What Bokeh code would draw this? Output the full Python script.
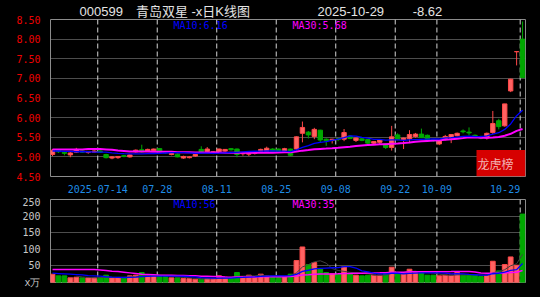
import pandas as pd
from bokeh.plotting import figure
from bokeh.layouts import column
from bokeh.models import ColumnDataSource, FixedTicker, Label, BoxAnnotation, Range1d, Span
from bokeh.embed import file_html
from bokeh.resources import INLINE

# ---------------- data ----------------
dates = [
    "2025-07-02", "2025-07-03", "2025-07-04", "2025-07-07", "2025-07-08", "2025-07-09", "2025-07-10", "2025-07-11",
    "2025-07-14", "2025-07-15", "2025-07-16", "2025-07-17", "2025-07-18", "2025-07-21", "2025-07-22", "2025-07-23",
    "2025-07-24", "2025-07-25", "2025-07-28", "2025-07-29", "2025-07-30", "2025-07-31",
    "2025-08-01", "2025-08-04", "2025-08-05", "2025-08-06", "2025-08-07", "2025-08-08", "2025-08-11", "2025-08-12",
    "2025-08-13", "2025-08-14", "2025-08-15", "2025-08-18", "2025-08-19", "2025-08-20", "2025-08-21", "2025-08-22",
    "2025-08-25", "2025-08-26", "2025-08-27", "2025-08-28", "2025-08-29",
    "2025-09-01", "2025-09-02", "2025-09-03", "2025-09-04", "2025-09-05", "2025-09-08", "2025-09-09", "2025-09-10",
    "2025-09-11", "2025-09-12", "2025-09-15", "2025-09-16", "2025-09-17", "2025-09-18", "2025-09-19", "2025-09-22",
    "2025-09-23", "2025-09-24", "2025-09-25", "2025-09-26", "2025-09-29", "2025-09-30",
    "2025-10-09", "2025-10-10", "2025-10-13", "2025-10-14", "2025-10-15", "2025-10-16", "2025-10-17", "2025-10-20",
    "2025-10-21", "2025-10-22", "2025-10-23", "2025-10-24", "2025-10-27", "2025-10-28", "2025-10-29",
]

opens = [5.06, 5.17, 5.12, 5.05, 5.12, 5.15, 5.11, 5.12, 5.15, 5.06,
         4.97, 4.98, 5.03, 5.00, 5.13, 5.18, 5.15, 5.16, 5.21, 5.12,
         5.06, 5.07, 4.97, 4.98, 5.02, 5.19, 5.14, 5.10, 5.14, 5.15,
         5.21, 5.20, 5.08, 5.07, 5.09, 5.14, 5.14, 5.20, 5.20, 5.14,
         5.20, 5.20, 5.60, 5.63, 5.52, 5.68, 5.45, 5.42, 5.46, 5.45,
         5.53, 5.42, 5.46, 5.44, 5.35, 5.37, 5.33, 5.24, 5.56, 5.44,
         5.46, 5.52, 5.58, 5.55, 5.44, 5.33, 5.47, 5.48, 5.54, 5.66,
         5.63, 5.55, 5.52, 5.48, 5.62, 5.92, 5.79, 6.68, 7.68, 8.00]

highs = [5.20, 5.19, 5.14, 5.12, 5.23, 5.16, 5.15, 5.17, 5.18, 5.08,
         5.02, 5.02, 5.05, 5.07, 5.19, 5.31, 5.21, 5.21, 5.22, 5.13,
         5.12, 5.08, 5.03, 5.02, 5.08, 5.27, 5.25, 5.15, 5.21, 5.20,
         5.22, 5.21, 5.12, 5.11, 5.14, 5.21, 5.26, 5.22, 5.21, 5.23,
         5.21, 5.52, 5.90, 5.66, 5.74, 5.69, 5.47, 5.46, 5.48, 5.71,
         5.55, 5.49, 5.48, 5.45, 5.40, 5.45, 5.35, 5.79, 5.60, 5.49,
         5.68, 5.61, 5.72, 5.57, 5.45, 5.43, 5.56, 5.58, 5.62, 5.70,
         5.75, 5.57, 5.54, 5.62, 6.17, 5.97, 6.35, 6.99, 7.68, 8.45]

lows = [5.02, 5.10, 5.04, 4.99, 5.10, 5.10, 5.08, 5.10, 5.10, 4.96,
        4.94, 4.95, 4.99, 4.98, 5.11, 5.11, 5.13, 5.14, 5.12, 5.08,
        5.04, 4.99, 4.95, 4.96, 5.00, 5.12, 5.12, 5.07, 5.12, 5.13,
        5.16, 4.99, 5.03, 5.02, 5.06, 5.12, 5.12, 5.12, 5.12, 5.12,
        5.02, 5.16, 5.37, 5.47, 5.45, 5.37, 5.28, 5.34, 5.40, 5.40,
        5.45, 5.38, 5.40, 5.32, 5.30, 5.33, 5.20, 5.16, 5.42, 5.20,
        5.35, 5.49, 5.48, 5.39, 5.38, 5.30, 5.42, 5.35, 5.52, 5.60,
        5.55, 5.48, 5.45, 5.44, 5.58, 5.70, 5.77, 6.65, 7.33, 7.01]

closes = [5.17, 5.13, 5.09, 5.10, 5.19, 5.12, 5.14, 5.15, 5.12, 4.98,
          5.00, 5.01, 5.01, 5.05, 5.17, 5.13, 5.19, 5.20, 5.13, 5.10,
          5.10, 5.00, 5.01, 5.00, 5.06, 5.14, 5.20, 5.13, 5.20, 5.19,
          5.18, 5.06, 5.11, 5.10, 5.12, 5.19, 5.22, 5.14, 5.14, 5.21,
          5.04, 5.51, 5.75, 5.56, 5.70, 5.43, 5.41, 5.45, 5.44, 5.62,
          5.47, 5.48, 5.42, 5.35, 5.39, 5.43, 5.24, 5.51, 5.44, 5.48,
          5.57, 5.58, 5.49, 5.41, 5.41, 5.42, 5.52, 5.57, 5.60, 5.64,
          5.61, 5.52, 5.48, 5.60, 5.85, 5.77, 6.35, 6.98, 7.68, 7.02]

volumes = [25, 20, 20, 14, 16, 14, 14, 14, 14, 22,
           14, 14, 14, 20, 22, 30, 20, 20, 18, 18,
           14, 14, 12, 12, 10, 10, 12, 12, 20, 16,
           14, 30, 16, 22, 18, 25, 20, 18, 18, 18,
           25, 66, 107, 54, 60, 40, 30, 26, 25, 47,
           25, 22, 20, 22, 22, 22, 27, 46, 26, 26,
           40, 32, 29, 22, 22, 20, 22, 22, 30, 22,
           22, 22, 18, 22, 64, 35, 54, 77, 52, 206]

# moving-average values at the start of the window (read from the picture,
# since the earlier trading days are not shown)
ma10_head = [5.15, 5.15, 5.14, 5.14, 5.13, 5.13, 5.13, 5.12, 5.12]
ma30_head = [5.19, 5.19, 5.19, 5.19, 5.19, 5.19, 5.20, 5.20, 5.20, 5.19,
             5.18, 5.16, 5.15, 5.14, 5.14, 5.14, 5.14, 5.13, 5.13, 5.13,
             5.13, 5.12, 5.12, 5.12, 5.11, 5.11, 5.11, 5.11, 5.11]
vol_ma10_head = [28, 27, 26, 25, 24, 23, 21, 20, 19]
vol_ma30_head = [39, 39, 39, 39, 39, 39, 39, 39, 38, 36,
                 34, 33, 31, 29, 27, 25, 24, 23, 22, 22,
                 22, 21, 21, 20, 20, 19, 19, 18, 18]

tick_dates = ["2025-07-14", "2025-07-28", "2025-08-11", "2025-08-25",
              "2025-09-08", "2025-09-22", "2025-10-09", "2025-10-29"]
tick_texts = ["2025-07-14", "07-28", "08-11", "08-25", "09-08", "09-22", "10-09", "10-29"]
price_ticks = [4.5, 5.0, 5.5, 6.0, 6.5, 7.0, 7.5, 8.0, 8.5]
vol_ticks = [0, 50, 100, 150, 200, 250]

title_code = "000599"
title_name = "青岛双星 -x日K线图"
title_date = "2025-10-29"
title_chg = "-8.62"
ma10_text = "MA10:6.16"
ma30_text = "MA30:5.68"
vma10_text = "MA10:56"
vma30_text = "MA30:35"
badge_text = "龙虎榜"

# ---------------- derived series ----------------
n = len(dates)
idx = list(range(n))
ma10 = pd.Series(closes).rolling(10).mean().tolist()
ma10[:9] = ma10_head
ma30 = pd.Series(closes).rolling(30).mean().tolist()
ma30[:29] = ma30_head
vma5 = pd.Series(volumes).rolling(5).mean().tolist()
vma10 = pd.Series(volumes).rolling(10).mean().tolist()
vma10[:9] = vol_ma10_head
vma30 = pd.Series(volumes).rolling(30).mean().tolist()
vma30[:29] = vol_ma30_head

RED_FILL = "#ff6262"
RED_LINE = "#ff4848"
GREEN = "#00a800"
up = [c >= o for o, c in zip(opens, closes)]
src = ColumnDataSource(dict(
    x=idx, o=opens, h=highs, l=lows, c=closes, v=volumes,
    top=[max(o, c) for o, c in zip(opens, closes)],
    bottom=[min(o, c) for o, c in zip(opens, closes)],
    fill=[RED_FILL if u else GREEN for u in up],
    line=[RED_LINE if u else GREEN for u in up],
))

# ---------------- layout constants ----------------
PX = 5.95            # pixels per trading day
X0 = -0.34
FRAME_W = 475
xr = Range1d(X0, X0 + FRAME_W / PX)


def px_x(px):
    return X0 + (px - 50) / PX


line_pos = [dates.index(d) - 0.4 for d in tick_dates]
label_pos = list(line_pos)
label_pos[-1] = line_pos[-1] - len(tick_texts[-1]) * 6.02 / 2 / PX

MONO = "DejaVu Sans Mono"
CJK = "Noto Sans CJK SC"
BG = "black"
FRAME = "#8c8c8c"
VDASH = "#d4d4d4"
HDOT = "#9a9a9a"

EM = "\u3000"
EN = "\u2002"
THIN = "\u2009"
title_text = (title_code + EN + EN + title_name + EM * 5 + THIN + title_date
              + EM * 2 + THIN + title_chg)

# ---------------- price panel ----------------
p1 = figure(width=540, height=196, x_range=xr, y_range=Range1d(4.5, 8.5),
            output_backend="svg", toolbar_location=None,
            min_border_left=50, min_border_right=15, min_border_top=18, min_border_bottom=20,
            background_fill_color=BG, border_fill_color=BG,
            outline_line_color=FRAME, outline_line_width=1)
p1.title.text = title_text
p1.title.align = "left"
p1.title.offset = 29
p1.title.standoff = 2
p1.title.text_font = "Liberation Sans, Noto Sans CJK SC"
p1.title.text_font_size = "13px"
p1.title.text_font_style = "normal"
p1.title.text_color = "#e4e4e4"

p1.xgrid.visible = False
p1.ygrid.ticker = FixedTicker(ticks=[t for t in price_ticks if 4.5 < t < 8.5])
p1.ygrid.grid_line_color = HDOT
p1.ygrid.grid_line_dash = "1 1"
for pos in line_pos:
    p1.add_layout(Span(location=pos, dimension="height", line_color=VDASH,
                       line_dash="5 3", line_width=1, level="underlay"))

p1.yaxis.ticker = FixedTicker(ticks=price_ticks)
p1.yaxis.major_label_overrides = {t: f"{t:.2f}" for t in price_ticks}
p1.yaxis.major_label_text_color = "#ee0000"
p1.xaxis.ticker = FixedTicker(ticks=label_pos)
p1.xaxis.major_label_overrides = {pos: t for pos, t in zip(label_pos, tick_texts)}
p1.xaxis.major_label_text_color = "#1e8ce6"
for ax in (p1.xaxis, p1.yaxis):
    ax.axis_line_color = None
    ax.major_tick_line_color = None
    ax.minor_tick_line_color = None
    ax.major_label_text_font = MONO
    ax.major_label_text_font_size = "10px"
p1.yaxis.major_label_standoff = 4
p1.xaxis.major_label_standoff = 2

p1.segment(x0="x", y0="h", x1="x", y1="l", line_color="line", line_width=1, source=src)
p1.vbar(x="x", top="top", bottom="bottom", width=0.74, fill_color="fill",
        line_color="line", line_width=1, source=src)
p1.line(idx, ma30, line_color="#ff00ff", line_width=2)
p1.line(idx, ma10, line_color="#0000ff", line_width=1.3)

p1.add_layout(BoxAnnotation(left=px_x(476), top=4.5 + (176 - 149.3) / 39.5,
                            fill_color="#d60000", fill_alpha=1, line_color=None))
p1.add_layout(Label(x=px_x(477), y=4.5, y_offset=13.5, text=badge_text,
                    text_font=CJK, text_font_size="12px", text_color="#f2b4b4",
                    text_baseline="middle"))

p1.add_layout(Label(x=px_x(173), y=8.5, y_offset=-5.5, text=ma10_text, text_font=MONO,
                    text_font_size="10px", text_color="#0000ff", text_baseline="middle"))
p1.add_layout(Label(x=px_x(292), y=8.5, y_offset=-5.5, text=ma30_text, text_font=MONO,
                    text_font_size="10px", text_color="#ff00ff", text_baseline="middle"))

# ---------------- volume panel ----------------
p2 = figure(width=540, height=101, x_range=xr, y_range=Range1d(0, 250),
            output_backend="svg", toolbar_location=None, x_axis_location=None,
            min_border_left=50, min_border_right=15, min_border_top=3, min_border_bottom=15,
            background_fill_color=BG, border_fill_color=BG,
            outline_line_color=FRAME, outline_line_width=1)
p2.xgrid.visible = False
p2.ygrid.ticker = FixedTicker(ticks=[t for t in vol_ticks if 0 < t < 250])
p2.ygrid.grid_line_color = HDOT
p2.ygrid.grid_line_dash = "1 1"
for pos in line_pos:
    p2.add_layout(Span(location=pos, dimension="height", line_color=VDASH,
                       line_dash="5 3", line_width=1, level="underlay"))

p2.yaxis.ticker = FixedTicker(ticks=vol_ticks)
p2.yaxis.major_label_overrides = {0: "x万"}
p2.yaxis.major_label_text_color = "#c8c8c8"
p2.yaxis.axis_line_color = None
p2.yaxis.major_tick_line_color = None
p2.yaxis.minor_tick_line_color = None
p2.yaxis.major_label_text_font = MONO
p2.yaxis.major_label_text_font_size = "10px"
p2.yaxis.major_label_standoff = 4

p2.vbar(x="x", top="v", bottom=0, width=0.8, fill_color="fill", line_color="line",
        line_width=1, source=src)
p2.line(idx, vma5, line_color="#404040", line_width=1)
p2.line(idx, vma30, line_color="#ff00ff", line_width=1.5)
p2.line(idx, vma10, line_color="#0000ff", line_width=1.3)

p2.add_layout(Label(x=px_x(173), y=250, y_offset=-5, text=vma10_text, text_font=MONO,
                    text_font_size="10px", text_color="#0000ff", text_baseline="middle"))
p2.add_layout(Label(x=px_x(292), y=250, y_offset=-5, text=vma30_text, text_font=MONO,
                    text_font_size="10px", text_color="#ff00ff", text_baseline="middle"))

layout = column(p1, p2, spacing=0)
layout.styles = {"background-color": "black"}
open("out.html", "w").write(file_html(layout, INLINE))
